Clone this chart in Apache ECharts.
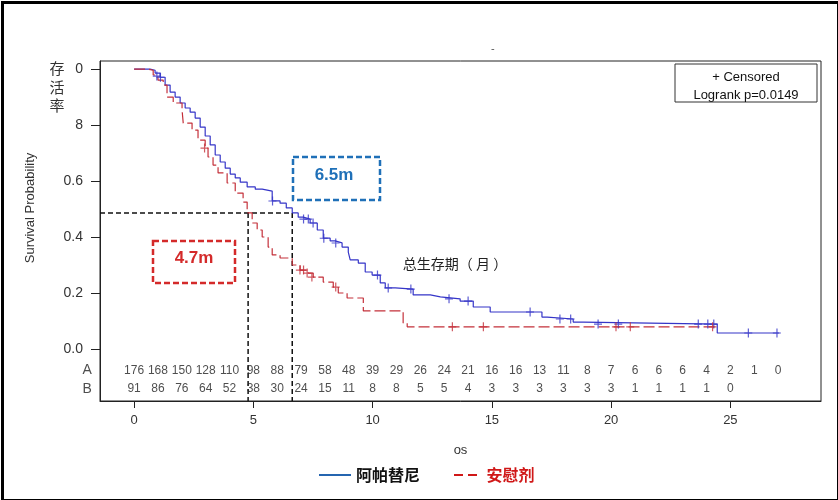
<!DOCTYPE html>
<html><head><meta charset="utf-8">
<script src="https://cdn.jsdelivr.net/npm/echarts@6/dist/echarts.min.js"></script>
<style>html,body{margin:0;padding:0;background:#fff}#c{width:838px;height:500px}</style>
</head><body><div id="c"></div>
<script>
// ---------- data ----------
const blueName = '阿帕替尼';
const redName = '安慰剂';
// Kaplan-Meier steps [month, survival]
const blueSteps = [[0,1],[0.67,0.996],[0.88,0.986],[1.09,0.971],[1.30,0.943],[1.51,0.918],[1.72,0.90],[1.93,0.879],[2.14,0.861],[2.35,0.846],[2.56,0.825],[2.77,0.793],[2.98,0.761],[3.19,0.729],[3.40,0.693],[3.61,0.668],[3.82,0.646],[4.03,0.625],[4.24,0.611],[4.45,0.596],[4.74,0.579],[5.08,0.571],[5.37,0.564],[5.79,0.529],[6.12,0.521],[6.38,0.504],[6.63,0.486],[6.88,0.471],[7.09,0.464],[7.38,0.45],[7.68,0.425],[7.93,0.396],[8.22,0.386],[8.43,0.379],[8.72,0.364],[8.98,0.346],[9.06,0.318],[9.40,0.307],[9.69,0.275],[9.98,0.264],[10.32,0.236],[10.53,0.218],[10.95,0.214],[11.70,0.193],[12.42,0.186],[12.84,0.179],[13.67,0.171],[14.22,0.15],[14.93,0.132],[17.1,0.114],[17.32,0.107],[18.41,0.096],[18.83,0.089],[24.45,0.057],[27.05,0.057]];
const blueCensor = [[0.95,0.975],[1.1,0.971],[5.8,0.529],[7.1,0.464],[7.3,0.464],[7.5,0.45],[7.95,0.396],[8.45,0.379],[10.2,0.264],[10.65,0.218],[11.6,0.214],[13.2,0.179],[14.0,0.171],[16.6,0.132],[17.85,0.107],[18.3,0.107],[19.45,0.089],[20.3,0.089],[23.65,0.089],[24.05,0.089],[24.3,0.089],[25.75,0.057],[26.95,0.057]];
const redSteps = [[0,1],[0.55,0.996],[0.80,0.979],[1.0,0.961],[1.22,0.943],[1.38,0.90],[1.64,0.879],[2.01,0.854],[2.06,0.807],[2.43,0.782],[2.68,0.746],[2.98,0.718],[3.10,0.686],[3.31,0.657],[3.52,0.629],[3.90,0.593],[4.24,0.557],[4.57,0.525],[4.74,0.486],[4.95,0.45],[5.16,0.425],[5.37,0.40],[5.62,0.364],[5.79,0.336],[6.12,0.325],[6.63,0.30],[6.96,0.282],[7.30,0.271],[7.51,0.257],[7.93,0.239],[8.35,0.221],[8.56,0.20],[8.93,0.182],[9.61,0.136],[11.28,0.093],[11.45,0.079],[24.4,0.079]];
const redCensor = [[2.95,0.718],[6.95,0.282],[7.1,0.282],[7.25,0.271],[7.45,0.257],[8.45,0.221],[13.34,0.079],[14.64,0.079],[20.2,0.079],[20.8,0.079],[24.25,0.079]];
// numbers at risk, month 0,1,2,...
const riskA = [176,168,150,128,110,98,88,79,58,48,39,29,26,24,21,16,16,13,11,8,7,6,6,6,4,2,1,0];
const riskB = [91,86,76,64,52,38,30,24,15,11,8,8,5,5,4,3,3,3,3,3,3,1,1,1,1,0];
const riskRowLabels = ['A','B'];
const xTicks = [0,5,10,15,20,25];
const yTickValues = [0,0.2,0.4,0.6,0.8,1.0];
const yTickLabels = ['0.0','0.2','0.4','0.6','8','0'];
const medianBlue = 6.63, medianRed = 4.78, medianLevel = 0.486;
const medianBlueText = '6.5m', medianRedText = '4.7m';
const censorLegendText = '+ Censored';
const logrankText = 'Logrank p=0.0149';

// ---------- layout constants ----------
const X_MIN = -1.43, X_MAX = 28.8, Y_MIN = -0.186, Y_MAX = 1.029;
const ROW_A_Y = -0.077, ROW_B_Y = -0.143;
const BLUE = '#3535c8', RED = '#c4303a';
const FONT = '"Liberation Sans", Arial, sans-serif';
const CJK = '"Noto Sans CJK SC", sans-serif';
const plus = 'path://M4,0h1.2v9h-1.2z M0.5,4h8v1.1h-8z';

const chart = echarts.init(document.getElementById('c'));
const riskSeries = (arr, y) => arr.map((v, i) => [i, y, v]);

chart.setOption({
  animation: false,
  backgroundColor: '#fff',
  title: { text: '-', left: 486, top: 38, textStyle: { fontSize: 11, color: '#555', fontWeight: 'normal', fontFamily: FONT } },
  grid: { left: 100, right: 17, top: 61, bottom: 99, show: true, borderColor: '#222', borderWidth: 1, backgroundColor: '#fff' },
  xAxis: {
    type: 'value', min: X_MIN, max: X_MAX,
    axisLine: { show: true, onZero: false, lineStyle: { color: '#222' } },
    axisTick: { show: true, customValues: xTicks, length: 7, lineStyle: { color: '#222' } },
    axisLabel: { customValues: xTicks, margin: 13, fontSize: 13, color: '#333', fontFamily: FONT },
    splitLine: { show: false },
    name: 'os', nameLocation: 'middle', nameGap: 43,
    nameTextStyle: { fontSize: 13, color: '#333', fontFamily: FONT }
  },
  yAxis: {
    type: 'value', min: Y_MIN, max: Y_MAX,
    axisLine: { show: true, onZero: false, lineStyle: { color: '#222' } },
    axisTick: { show: true, customValues: yTickValues, length: 9, lineStyle: { color: '#222' } },
    axisLabel: { customValues: yTickValues, margin: 17, fontSize: 14, color: '#333', fontFamily: FONT,
      formatter: v => yTickLabels[Math.round(v * 5)] },
    splitLine: { show: false }
  },
  legend: {
    left: 314, top: 462, itemWidth: 32, itemHeight: 2, itemGap: 34,
    textStyle: { fontSize: 16, fontWeight: 'bold', fontFamily: CJK },
    data: [
      { name: blueName, icon: 'path://M0,0h32v2h-32z', itemStyle: { color: '#2565b0' }, textStyle: { color: '#111' } },
      { name: redName, icon: 'path://M0,0h9v2h-9z M14,0h9v2h-9z', itemStyle: { color: '#d01818' }, textStyle: { color: '#d01818' } }
    ]
  },
  series: [
    { name: blueName, type: 'line', step: 'end', data: blueSteps, symbol: 'none',
      lineStyle: { color: BLUE, width: 1.2 }, itemStyle: { color: BLUE }, z: 3 },
    { name: redName, type: 'line', step: 'end', data: redSteps, symbol: 'none',
      lineStyle: { color: RED, width: 1.2, type: [11, 4] }, itemStyle: { color: RED }, z: 3 },
    { name: 'blueC', type: 'scatter', data: blueCensor, symbol: plus, symbolSize: [8, 9],
      itemStyle: { color: BLUE }, z: 4 },
    { name: 'redC', type: 'scatter', data: redCensor, symbol: plus, symbolSize: [8, 9],
      itemStyle: { color: RED }, z: 4 },
    { name: 'medH', type: 'line', data: [[X_MIN, medianLevel], [medianBlue, medianLevel]], symbol: 'none',
      lineStyle: { color: '#111', width: 1.5, type: [5, 3] }, z: 2 },
    { name: 'medR', type: 'line', data: [[medianRed, medianLevel], [medianRed, Y_MIN]], symbol: 'none',
      lineStyle: { color: '#111', width: 1.5, type: [5, 3] }, z: 2 },
    { name: 'medB', type: 'line', data: [[medianBlue, medianLevel], [medianBlue, Y_MIN]], symbol: 'none',
      lineStyle: { color: '#111', width: 1.5, type: [5, 3] }, z: 2 },
    { name: 'riskA', type: 'scatter', data: riskSeries(riskA, ROW_A_Y), symbolSize: 1, itemStyle: { color: 'rgba(0,0,0,0)' },
      label: { show: true, position: 'inside', formatter: p => p.data[2], fontSize: 12, color: '#222', fontFamily: FONT }, z: 5 },
    { name: 'riskB', type: 'scatter', data: riskSeries(riskB, ROW_B_Y), symbolSize: 1, itemStyle: { color: 'rgba(0,0,0,0)' },
      label: { show: true, position: 'inside', formatter: p => p.data[2], fontSize: 12, color: '#222', fontFamily: FONT }, z: 5 },
    { name: 'rowLabels', type: 'scatter', clip: false, data: [[-1.75, ROW_A_Y, riskRowLabels[0]], [-1.75, ROW_B_Y, riskRowLabels[1]]],
      symbolSize: 1, itemStyle: { color: 'rgba(0,0,0,0)' },
      label: { show: true, position: 'left', distance: 0, formatter: p => p.data[2], fontSize: 14, color: '#222', fontFamily: FONT }, z: 5 }
  ],
  graphic: [
    { type: 'rect', left: 0, top: 0, shape: { x: 1, y: 1, width: 836, height: 498 }, style: { fill: 'none', stroke: '#000', lineWidth: 3 }, z: 100 },
    { type: 'rect', shape: { x: 675, y: 64, width: 142, height: 38 }, style: { fill: '#fff', stroke: '#333', lineWidth: 1 }, z: 50 },
    { type: 'text', x: 746, y: 77, style: { text: censorLegendText, fill: '#111', font: '13px ' + FONT, textAlign: 'center', textVerticalAlign: 'middle' }, z: 51 },
    { type: 'text', x: 746, y: 95, style: { text: logrankText, fill: '#111', font: '13px ' + FONT, textAlign: 'center', textVerticalAlign: 'middle' }, z: 51 },
    { type: 'rect', shape: { x: 293, y: 157, width: 87, height: 43 }, style: { fill: 'none', stroke: '#1f70b8', lineWidth: 2.5, lineDash: [6, 3] }, z: 50 },
    { type: 'text', x: 334, y: 175, style: { text: medianBlueText, fill: '#1f70b8', font: 'bold 17px ' + FONT, textAlign: 'center', textVerticalAlign: 'middle' }, z: 51 },
    { type: 'rect', shape: { x: 153, y: 241, width: 82, height: 42 }, style: { fill: 'none', stroke: '#d42a2a', lineWidth: 2.5, lineDash: [6, 3] }, z: 50 },
    { type: 'text', x: 194, y: 258, style: { text: medianRedText, fill: '#d42a2a', font: 'bold 17px ' + FONT, textAlign: 'center', textVerticalAlign: 'middle' }, z: 51 },
    { type: 'text', x: 455, y: 264, style: { text: '总生存期（ 月 ）', fill: '#222', font: '14px ' + CJK, textAlign: 'center', textVerticalAlign: 'middle' }, z: 51 },
    { type: 'text', x: 57, y: 87, style: { text: '存\n活\n率', fill: '#333', font: '15px ' + CJK, lineHeight: 18.5, textAlign: 'center', textVerticalAlign: 'middle' }, z: 51 },
    { type: 'text', x: 30, y: 208, rotation: Math.PI / 2, style: { text: 'Survival Probability', fill: '#333', font: '13px "Liberation Sans Narrow", ' + FONT, textAlign: 'center', textVerticalAlign: 'middle' }, z: 51 }
  ]
});
</script></body></html>
